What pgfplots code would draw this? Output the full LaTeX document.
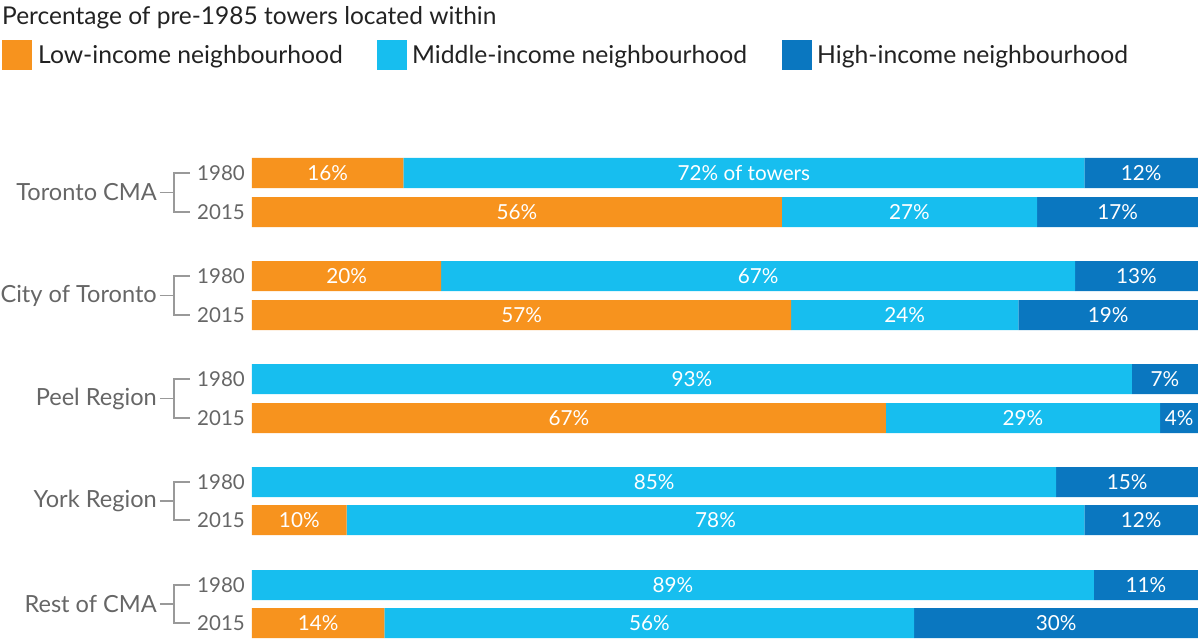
\documentclass[border=0pt]{standalone}
\usepackage{pgfplots}
\pgfplotsset{compat=1.18}
\usepackage{fontspec}
\setmainfont{Lato}
\definecolor{lowc}{HTML}{F7931E}
\definecolor{midc}{HTML}{17BEEF}
\definecolor{highc}{HTML}{0A77C0}
\definecolor{labgray}{HTML}{666666}
\definecolor{brgray}{HTML}{999999}
\definecolor{txt}{HTML}{222222}
\begin{document}
\begin{tikzpicture}
\begin{axis}[
  x=9.46pt, y=1pt, y dir=reverse,
  xmin=0, xmax=100, ymin=0, ymax=639,
  axis lines=none, clip=false,
  xbar stacked, bar width=30,
  point meta=explicit symbolic,
  nodes near coords,
  nodes near coords style={anchor=center, text=white, font=\fontsize{20.7}{20.7}\selectfont},
]
\addplot[fill=lowc, draw=none] coordinates {
 (16,173) [16\%] (56,212) [56\%] (20,276) [20\%] (57,315) [57\%] (0,379) [] (67,418) [67\%]
 (0,482) [] (10,520) [10\%] (0,585) [] (14,623) [14\%]};
\addplot[fill=midc, draw=none] coordinates {
 (72,173) [72\% of towers] (27,212) [27\%] (67,276) [67\%] (24,315) [24\%] (93,379) [93\%] (29,418) [29\%]
 (85,482) [85\%] (78,520) [78\%] (89,585) [89\%] (56,623) [56\%]};
\addplot[fill=highc, draw=none] coordinates {
 (12,173) [12\%] (17,212) [17\%] (13,276) [13\%] (19,315) [19\%] (7,379) [7\%] (4,418) [4\%]
 (15,482) [15\%] (12,520) [12\%] (11,585) [11\%] (30,623) [30\%]};
\coordinate (P0) at (axis cs:-26.638,0);
\end{axis}
\begin{scope}[shift={(P0)}, x=1pt, y=-1pt]
  \node[anchor=base west, inner sep=0, text=txt, font=\fontsize{24.5}{24.5}\selectfont] at (2,25) {Percentage of pre-1985 towers located within};
  \fill[lowc] (2,40) rectangle (32,70);
  \fill[midc] (377,40) rectangle (407,70);
  \fill[highc] (782,40) rectangle (812,70);
  \node[anchor=base west, inner sep=0, text=txt, font=\fontsize{24.7}{24.7}\selectfont] at (38,64) {Low-income neighbourhood};
  \node[anchor=base west, inner sep=0, text=txt, font=\fontsize{24.7}{24.7}\selectfont] at (412,64) {Middle-income neighbourhood};
  \node[anchor=base west, inner sep=0, text=txt, font=\fontsize{24.7}{24.7}\selectfont] at (817,64) {High-income neighbourhood};
  \foreach \ya/\yb/\name in {173/212/Toronto CMA, 276/315/City of Toronto, 379/418/Peel Region, 482/520/York Region, 585/623/Rest of CMA}{
    \pgfmathsetmacro{\ym}{(\ya+\yb)/2}
    \draw[brgray, line width=1.2pt] (160,\ym) -- (174,\ym);
    \draw[brgray, line width=1.2pt] (190,\ya) -- (174,\ya) -- (174,\yb) -- (190,\yb);
    \node[anchor=east, inner sep=0, text=labgray, font=\fontsize{23.6}{23.6}\selectfont] at (157,\ym) {\name};
    \node[anchor=east, inner sep=0, text=labgray, font=\fontsize{20.5}{20.5}\selectfont] at (245,\ya) {1980};
    \node[anchor=east, inner sep=0, text=labgray, font=\fontsize{20.5}{20.5}\selectfont] at (245,\yb) {2015};
  }
  \pgfresetboundingbox
  \path[use as bounding box] (0,0) rectangle (1198,639);
\end{scope}
\end{tikzpicture}
\end{document}
